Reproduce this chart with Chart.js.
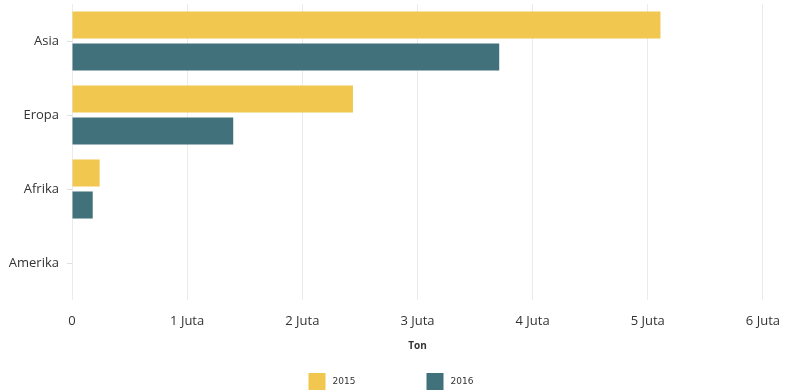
<!DOCTYPE html>
<html>
<head>
<meta charset="utf-8">
<script src="https://cdn.jsdelivr.net/npm/chart.js@4"></script>
<style>
    html, body { margin: 0; padding: 0; background: #fff; }
    #wrap { width: 793px; height: 390px; position: relative; }
</style>
</head>
<body>
<div id="wrap"><canvas id="barChart"></canvas></div>
<script>
    // Categories (regions) and yearly values, in tons
    const regions = ['Asia', 'Eropa', 'Afrika', 'Amerika'];
    const values2015 = [5110000, 2440000, 240000, 0];
    const values2016 = [3710000, 1400000, 180000, 0];
    const xTicks = [0, 1000000, 2000000, 3000000, 4000000, 5000000, 6000000];

    const fontFamily = "'Open Sans', 'DejaVu Sans', sans-serif";

    // small legend drawn below the axis title, items spaced wide apart
    const bottomLegend = {
        id: 'bottomLegend',
        afterDraw: function (chart) {
            const ctx = chart.ctx;
            const cx = chart.width / 2;
            const offsets = [-88, 30];
            ctx.save();
            ctx.font = "9px 'DejaVu Sans', sans-serif";
            ctx.textBaseline = 'middle';
            chart.data.datasets.forEach(function (ds, i) {
                const x = cx + offsets[i];
                ctx.fillStyle = ds.backgroundColor;
                ctx.fillRect(x, 373, 17, 17);
                ctx.fillStyle = '#333';
                ctx.fillText(ds.label, x + 24, 382);
            });
            ctx.restore();
        }
    };

    const barData = {
        labels: regions,
        datasets: [{
            label: '2015',
            data: values2015,
            backgroundColor: '#f1c74f'
        }, {
            label: '2016',
            data: values2016,
            backgroundColor: '#41717b'
        }]
    };

    const barOptions = {
        type: 'bar',
        data: barData,
        plugins: [bottomLegend],
        options: {
            indexAxis: 'y',
            responsive: true,
            maintainAspectRatio: false,
            animation: false,
            categoryPercentage: 0.865,
            barPercentage: 0.845,
            layout: { padding: { top: 4, right: 28, left: 0, bottom: 34 } },
            scales: {
                x: {
                    min: 0,
                    max: 6000000,
                    afterBuildTicks: function (axis) {
                        axis.ticks = xTicks.map(v => ({ value: v }));
                    },
                    afterFit: function (axis) { axis.height = 56; },
                    grid: { color: '#ebebeb', drawTicks: false },
                    border: { display: false },
                    ticks: {
                        padding: 13,
                        color: '#333',
                        font: { family: fontFamily, size: 13 },
                        callback: function (v) { return v === 0 ? '0' : (v / 1000000) + ' Juta'; }
                    },
                    title: {
                        display: true,
                        text: 'Ton',
                        color: '#333',
                        padding: { top: 8, bottom: 4 },
                        font: { family: fontFamily, size: 10, weight: 'bold' }
                    }
                },
                y: {
                    afterFit: function (axis) {
                        axis.width = 72;
                        axis.paddingTop = 0;
                        axis.paddingBottom = 0;
                    },
                    grid: { offset: false, drawOnChartArea: false, tickLength: 5, color: '#e0e0e0' },
                    border: { display: false },
                    ticks: {
                        padding: 8,
                        color: '#333',
                        font: { family: fontFamily, size: 13 }
                    }
                }
            },
            plugins: {
                legend: { display: false },
                tooltip: { enabled: false }
            }
        }
    };

    document.addEventListener('DOMContentLoaded', function () {
        new Chart(document.getElementById('barChart'), barOptions);
    });
</script>
</body>
</html>
